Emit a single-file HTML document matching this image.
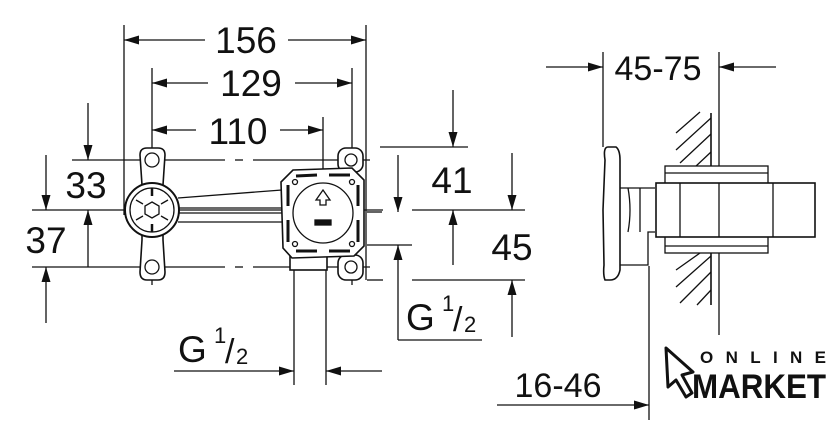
<!DOCTYPE html>
<html><head><meta charset="utf-8"><style>
html,body{margin:0;padding:0;background:#fff;}
svg{display:block;}
text{font-family:"Liberation Sans",Arial,sans-serif;fill:#111;}
</style></head><body>
<svg width="840" height="440" viewBox="0 0 840 440" xmlns="http://www.w3.org/2000/svg">
<defs>
<marker id="a" viewBox="0 0 10 6" refX="10" refY="3" markerWidth="20" markerHeight="9" markerUnits="userSpaceOnUse" orient="auto"><path d="M0,0 L10,3 L0,6 Z" fill="#111"/></marker>
</defs>
<g stroke="#111" stroke-width="1.3" fill="none">
<line x1="124" y1="25" x2="124" y2="215"/>
<line x1="366" y1="25" x2="366" y2="280"/>
<line x1="152" y1="68" x2="152" y2="285"/>
<line x1="352" y1="68" x2="352" y2="285"/>
<line x1="323" y1="117" x2="323" y2="213"/>
<line x1="205" y1="40" x2="124" y2="40" marker-end="url(#a)"/>
<line x1="288" y1="40" x2="366" y2="40" marker-end="url(#a)"/>
<line x1="208" y1="83" x2="152" y2="83" marker-end="url(#a)"/>
<line x1="295" y1="83" x2="352" y2="83" marker-end="url(#a)"/>
<line x1="196" y1="130" x2="152" y2="130" marker-end="url(#a)"/>
<line x1="280" y1="130" x2="323" y2="130" marker-end="url(#a)"/>
<line x1="72" y1="160" x2="225" y2="160"/><line x1="235" y1="160" x2="243" y2="160"/><line x1="253" y1="160" x2="370" y2="160"/>
<line x1="32" y1="210" x2="383" y2="210"/>
<line x1="32" y1="267" x2="225" y2="267"/><line x1="235" y1="267" x2="243" y2="267"/><line x1="253" y1="267" x2="370" y2="267"/>
<line x1="88" y1="103" x2="88" y2="160" marker-end="url(#a)"/>
<line x1="88" y1="267" x2="88" y2="210" marker-end="url(#a)"/>
<line x1="46" y1="155" x2="46" y2="210" marker-end="url(#a)"/>
<line x1="46" y1="323" x2="46" y2="267" marker-end="url(#a)"/>
<line x1="380" y1="147" x2="468" y2="147"/>
<line x1="453" y1="90" x2="453" y2="147" marker-end="url(#a)"/>
<line x1="453" y1="265" x2="453" y2="210" marker-end="url(#a)"/>
<line x1="367" y1="212" x2="382" y2="212"/>
<line x1="412" y1="210" x2="525" y2="210"/>
<line x1="398" y1="155" x2="398" y2="212" marker-end="url(#a)"/>
<line x1="367" y1="245" x2="412" y2="245"/>
<line x1="398" y1="340" x2="398" y2="245" marker-end="url(#a)"/>
<line x1="398" y1="340" x2="482" y2="340"/>
<line x1="367" y1="280" x2="383" y2="280"/>
<line x1="412" y1="280" x2="525" y2="280"/>
<line x1="512" y1="153" x2="512" y2="210" marker-end="url(#a)"/>
<line x1="512" y1="337" x2="512" y2="280" marker-end="url(#a)"/>
<line x1="294" y1="267" x2="294" y2="385"/>
<line x1="326" y1="267" x2="326" y2="385"/>
<line x1="174" y1="371" x2="294" y2="371" marker-end="url(#a)"/>
<line x1="382" y1="371" x2="326" y2="371" marker-end="url(#a)"/>
<!-- left fixture -->
<path d="M140,155 Q140,148 147,148 L158,148 Q165,148 165,155 L163,185 L163,240 L165,272 Q165,280 158,280 L147,280 Q140,280 140,272 L142,240 L142,185 Z" fill="#fff" stroke-width="1.6"/>
<circle cx="152" cy="160" r="7"/><circle cx="152" cy="267" r="7"/>
<path d="M178,198 L282,190 M178,208 L282,208 M178,213 L282,213 M178,222 L282,222"/>
<circle cx="152" cy="210" r="27" fill="#fff" stroke-width="2"/>
<circle cx="152" cy="210" r="22"/>
<polygon points="152,202 159,206 159,214 152,218 145,214 145,206"/>
<line x1="152" y1="188" x2="152" y2="196" stroke-width="2.5"/><line x1="152" y1="224" x2="152" y2="232" stroke-width="2.5"/>
<line x1="136" y1="200" x2="143" y2="204"/><line x1="168" y1="200" x2="161" y2="204"/>
<line x1="136" y1="220" x2="143" y2="216"/><line x1="168" y1="220" x2="161" y2="216"/>
<!-- right body -->
<rect x="290" y="250" width="37" height="20" fill="#fff" stroke-width="1.6"/>
<rect x="338" y="148" width="25" height="24" rx="8" fill="#fff" stroke-width="1.6"/>
<rect x="338" y="255" width="25" height="25" rx="8" fill="#fff" stroke-width="1.6"/>
<circle cx="351" cy="160" r="6"/><circle cx="351" cy="267" r="6"/>
<path d="M293,170 L352,168 L364,180 L364,246 L354,256 L292,258 L283,248 L281,182 Z" fill="#fff" stroke-width="1.6"/>
<path d="M296,176 L317,175 M329,175 L350,175 M358,185 L358,206 M358,220 L358,242 M350,251 L329,251 M317,251 L296,251 M288,242 L288,220 M288,206 L288,185" stroke-width="3"/>
<circle cx="323" cy="213" r="30" fill="#fff"/>
<circle cx="295" cy="182" r="2.5"/><circle cx="352" cy="182" r="2.5"/><circle cx="295" cy="244" r="2.5"/><circle cx="352" cy="244" r="2.5"/>
<path d="M316,200 L323,190 L330,200 L326,200 L326,205 L320,205 L320,200 Z"/>
<rect x="315" y="220" width="16" height="5" fill="#111"/>
<!-- right view -->
<line x1="603" y1="52" x2="603" y2="147"/>
<line x1="719" y1="52" x2="719" y2="335"/>
<line x1="546" y1="67" x2="603" y2="67" marker-end="url(#a)"/>
<line x1="776" y1="67" x2="719" y2="67" marker-end="url(#a)"/>
<line x1="649" y1="266" x2="649" y2="420"/>
<line x1="497" y1="405" x2="649" y2="405" marker-end="url(#a)"/>
<line x1="711" y1="113" x2="711" y2="305" stroke-width="1.6"/>
<path d="M676,133 L700,112 M676,150 L711,118 M680,163 L711,134 M695,167 L711,152 M676,270 L700,253 M676,287 L711,256 M680,303 L711,272 M697,305 L711,290"/>
<path d="M608,147 L616,147 Q620,150 620,160 L620,270 Q618,280 610,280 L605,280 Q603,275 604,265 L603,210 L605,160 Q603,147 608,147 Z" fill="#fff" stroke-width="1.6"/>
<path d="M620,188 L655,188 M620,265 L648,265 L648,232 L655,232 M628,188 Q632,210 628,232 M640,188 L640,232"/>
<rect x="665" y="166" width="103" height="87" fill="#fff"/>
<line x1="665" y1="173" x2="768" y2="173"/><line x1="665" y1="246" x2="768" y2="246"/>
<rect x="656" y="183" width="159" height="54" fill="#fff" stroke-width="1.6"/>
<line x1="680" y1="183" x2="680" y2="237"/><line x1="773" y1="183" x2="773" y2="237"/>
<line x1="719" y1="183" x2="719" y2="237"/>
</g>
<g font-size="37">
<text x="246" y="53" text-anchor="middle">156</text>
<text x="251" y="96" text-anchor="middle">129</text>
<text x="238" y="144" text-anchor="middle">110</text>
<text x="86" y="198" text-anchor="middle">33</text>
<text x="46" y="253" text-anchor="middle">37</text>
<text x="452" y="193" text-anchor="middle">41</text>
<text x="512" y="260" text-anchor="middle">45</text>
<text x="178" y="362">G</text>
<text x="406" y="330">G</text>
</g>
<g font-size="22"><text x="214" y="343">1</text><text x="442" y="311">1</text></g>
<g font-size="34"><text x="225" y="363">/</text><text x="453" y="331">/</text></g>
<g font-size="22"><text x="236" y="364">2</text><text x="464" y="332">2</text></g>
<text x="658" y="80" font-size="34" text-anchor="middle">45-75</text>
<text x="558" y="397" font-size="34" text-anchor="middle">16-46</text>
<path d="M666,348 L693,372 L682,375 L692,393 L686,397 L676,380 L668,387 Z" fill="#fff" stroke="#111" stroke-width="3" stroke-linejoin="round"/>
<text x="700" y="363" font-size="17" font-weight="bold" textLength="126" lengthAdjust="spacing">ONLINE</text>
<text x="692" y="398" font-size="34" font-weight="bold" textLength="134" lengthAdjust="spacingAndGlyphs">MARKET</text>
</svg>
</body></html>
